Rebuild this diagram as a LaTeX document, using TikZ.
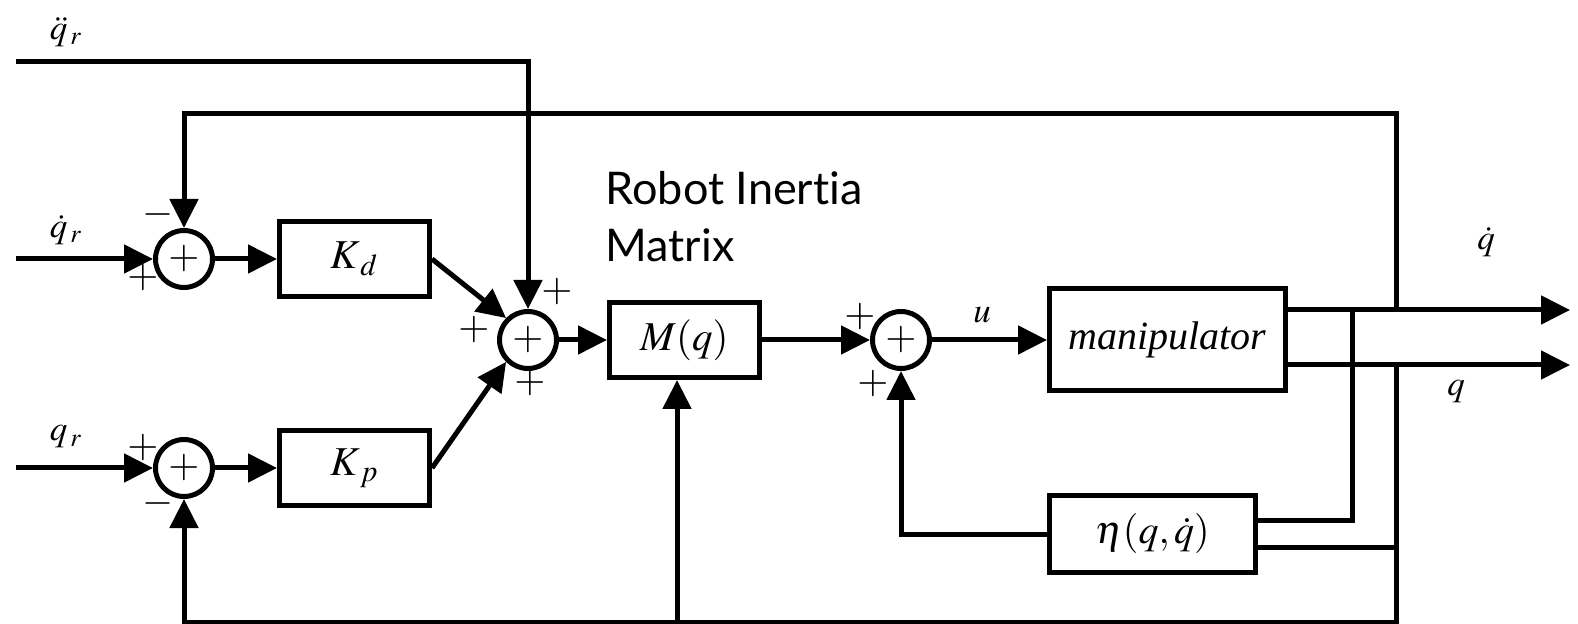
\documentclass[tikz,border=0pt]{standalone}
\usepackage{mathptmx}
\usepackage{fontspec}
\setmainfont{Liberation Serif}
\newfontfamily\gillfont[Ligatures=NoCommon]{Lato}
\usepackage{tikz}
\usetikzlibrary{arrows.meta,positioning,calc}
\tikzset{
  gain/.style={draw, line width=2.5pt, minimum width=75pt, minimum height=37.5pt, inner sep=0pt, font=\fontsize{20.5}{24}\selectfont},
  plant/.style={gain, font=\fontsize{20}{24}\selectfont},
  sumj/.style={draw, circle, line width=2.5pt, minimum size=28.5pt, inner sep=0pt, font=\fontsize{20}{24}\selectfont},
  sgn/.style={inner sep=0pt, font=\fontsize{20}{24}\selectfont},
  sig/.style={inner sep=0pt, font=\fontsize{17.5}{21}\selectfont},
  arr/.style={-{Triangle[length=14.5pt,width=14pt]}},
}

\begin{document}
\begin{tikzpicture}[x=0.5pt, y=-0.5pt, line width=2.5pt]
\useasboundingbox (0,0) rectangle (1578,624);
% summing junctions and blocks
\node[sumj] (s1) at (184,259) {$+$};
\node[gain, right=31pt of s1] (kd) {$K_{\,d}$};
\node[sumj] (s4) at (184,468) {$+$};
\node[gain, right=31pt of s4] (kp) {$K_{\,p}$};
\node[sumj] (s2) at (528,340) {$+$};
\node[gain, right=24pt of s2] (m) {$M(q)$};
\node[sumj] (s3) at (901,340) {$+$};
\node[plant, right=57.5pt of s3, minimum width=118pt, minimum height=51pt] (man) {\itshape manipulator};
\node[plant, minimum width=103pt, minimum height=38.5pt] (eta) at (1152.5,534) {$\eta(q,\dot{q})$};
\node[anchor=west, align=left, inner sep=0pt, font=\gillfont\fontsize{22.5}{28.5}\selectfont] (title) at (603,217) {Robot Inertia\\Matrix};
% signal labels
\node[sig] (lddqr) at (66,32) {$\ddot{q}_{\,r}$};
\node[sig] (ldqr) at (66,230) {$\dot{q}_{\,r}$};
\node[sig] (lqr) at (66,437) {$q_{\,r}$};
\node[sig] (lu) at (982,315) {$u$};
\node[sig] (ldq) at (1486,242) {$\dot{q}$};
\node[sig] (lq) at (1456,392) {$q$};
% signs
\node[sgn] (s1a) at (158,215) {$-$};
\node[sgn] (s1b) at (143,278) {$+$};
\node[sgn] (s4a) at (143,448) {$+$};
\node[sgn] (s4b) at (158,503) {$-$};
\node[sgn] (s2a) at (557,292) {$+$};
\node[sgn] (s2b) at (474,330) {$+$};
\node[sgn] (s2c) at (530,383) {$+$};
\node[sgn] (s3a) at (860,317) {$+$};
\node[sgn] (s3b) at (873,384) {$+$};
% forward path
\coordinate (ddin) at (16,62);
\coordinate (ddc) at (528,62);
\coordinate (din) at (16,259);
\coordinate (pin) at (16,468);
\draw[arr] (ddin) -- (ddc) -- (s2.north);
\draw[arr] (din) -- (s1.west);
\draw[arr] (pin) -- (s4.west);
\draw[arr] (s1) -- (kd);
\draw[arr] (s4) -- (kp);
\draw[arr] (kd.east) -- (s2.135);
\draw[arr] (kp.east) -- (s2.225);
\draw[arr] (s2) -- (m);
\draw[arr] (m) -- (s3);
\draw[arr] (s3) -- (s3 -| man.west);
% outputs
\coordinate (vout) at (1570,310);
\coordinate (qout) at (1570,365);
\draw[arr] (man.east |- vout) -- (vout);
\draw[arr] (man.east |- qout) -- (qout);
% feedback
\coordinate (vtap) at (1396,310);
\coordinate (vtop) at (1396,114);
\draw[arr] (vtap) -- (vtop) -| (s1.north);
\coordinate (qtap) at (1396,365);
\coordinate (qbot) at (1396,622);
\draw[arr] (qtap) -- (qbot) -| (s4.south);
\coordinate (mtap) at (677,622);
\draw[arr] (mtap) -- (mtap |- m.south);
\coordinate (etap) at (1352,310);
\coordinate (ein1) at (1352,520);
\coordinate (ein2) at (1396,547);
\draw (etap) -- (ein1) -- (eta.east |- ein1);
\draw (ein2) -- (eta.east |- ein2);
\draw[arr] (eta.west) -| (s3.south);
\end{tikzpicture}
\end{document}
